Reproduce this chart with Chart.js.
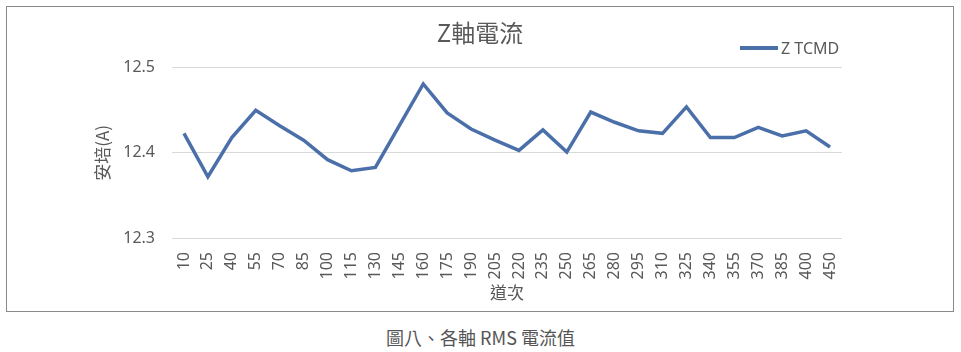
<!DOCTYPE html>
<html>
<head>
<meta charset="utf-8">
<script src="https://cdn.jsdelivr.net/npm/chart.js@4/dist/chart.umd.min.js"></script>
<style>
  body { margin: 0; background: #fff; width: 961px; height: 352px; position: relative; overflow: hidden; }
  #box { position: absolute; left: 6px; top: 6px; width: 946px; height: 304px; border: 1px solid #8a8a8a; }
  #caption { position: absolute; left: 0; top: 326px; width: 961px; text-align: center;
    font: 18px "Noto Sans CJK TC", "Noto Sans", sans-serif; color: #555; line-height: 22px; }
</style>
</head>
<body>
<div id="box"><canvas id="chart" width="946" height="304"></canvas></div>
<div id="caption">圖八、各軸 RMS 電流值</div>
<script>
const passes = ['10', '25', '40', '55', '70', '85', '100', '115', '130', '145', '160', '175', '190', '205',
  '220', '235', '250', '265', '280', '295', '310', '325', '340', '355', '370', '385', '400', '450'];
const zTcmd = [12.423, 12.372, 12.418, 12.450, 12.432, 12.415, 12.392, 12.379, 12.383, 12.432, 12.481,
  12.447, 12.428, 12.415, 12.403, 12.427, 12.401, 12.448, 12.436, 12.426, 12.423, 12.454, 12.418,
  12.418, 12.430, 12.420, 12.426, 12.407];
const yTicks = [12.3, 12.4, 12.5];

const fontFamily = '"Noto Sans", "Noto Sans CJK TC", sans-serif';
const grey = '#595959';
const blue = '#4a6fa9';

// legend sits beside the title in the original, so draw it by hand
const lineLegend = {
  id: 'lineLegend',
  afterDraw(chart) {
    const ctx = chart.ctx;
    const ds = chart.data.datasets[0];
    ctx.save();
    ctx.strokeStyle = ds.borderColor;
    ctx.lineWidth = 4;
    ctx.beginPath();
    ctx.moveTo(733, 41);
    ctx.lineTo(771, 41);
    ctx.stroke();
    ctx.fillStyle = grey;
    ctx.font = '16px ' + fontFamily;
    ctx.textBaseline = 'middle';
    ctx.fillText(ds.label, 774, 42);
    ctx.restore();
  }
};

new Chart(document.getElementById('chart'), {
  type: 'line',
  data: {
    labels: passes,
    datasets: [{
      label: 'Z TCMD',
      data: zTcmd,
      borderColor: blue,
      backgroundColor: blue,
      borderWidth: 3.5,
      pointRadius: 0,
      tension: 0,
      fill: false
    }]
  },
  options: {
    responsive: false,
    animation: false,
    layout: { padding: 0 },
    plugins: {
      legend: { display: false },
      tooltip: { enabled: false },
      title: {
        display: true,
        text: 'Z軸電流',
        color: grey,
        font: { family: '"Noto Sans CJK TC", sans-serif', size: 24, weight: 'normal' },
        padding: { top: 11, bottom: 21 }
      }
    },
    scales: {
      x: {
        offset: true,
        grid: { display: false },
        border: { display: false },
        ticks: {
          color: grey,
          font: { family: fontFamily, size: 16 },
          minRotation: 90,
          maxRotation: 90,
          autoSkip: false,
          padding: 6
        },
        title: {
          display: true,
          text: '道次',
          color: grey,
          font: { family: '"Noto Sans CJK TC", sans-serif', size: 17 },
          padding: { top: 0, bottom: 7.8 }
        },
        afterFit(scale) { scale.height = 73; }
      },
      y: {
        min: 12.3,
        max: 12.5,
        afterBuildTicks(scale) { scale.ticks = yTicks.map(v => ({ value: v })); },
        grid: { color: '#d9d9d9', lineWidth: 1, drawTicks: false },
        border: { display: false },
        ticks: {
          color: grey,
          font: { family: fontFamily, size: 16 },
          padding: 17,
          callback: v => v.toFixed(1)
        },
        title: {
          display: true,
          text: '安培(A)',
          color: grey,
          font: { family: '"Noto Sans CJK TC", sans-serif', size: 17 },
          padding: { top: 85.8, bottom: 0 }
        },
        afterFit(scale) { scale.width = 165; }
      },
      // empty right-hand axis keeps the plot narrow while the title stays centred on the frame
      side: {
        position: 'right',
        grid: { display: false },
        border: { display: false },
        ticks: { display: false },
        afterFit(scale) { scale.width = 111; }
      }
    }
  },
  plugins: [lineLegend]
});
</script>
</body>
</html>
